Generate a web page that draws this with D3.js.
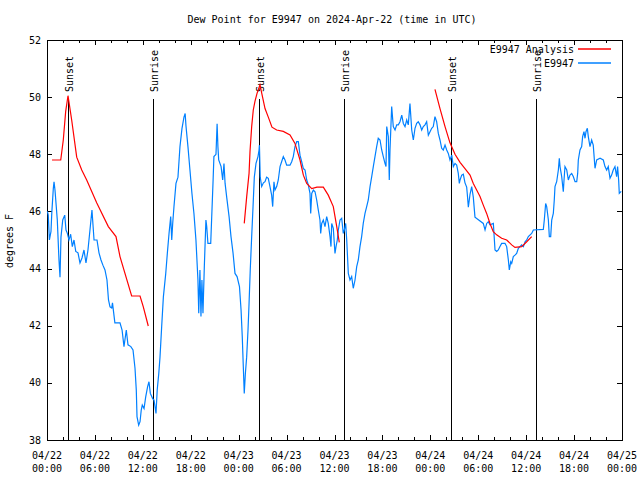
<!DOCTYPE html>
<html><head><meta charset="utf-8">
<script src="https://cdn.jsdelivr.net/npm/d3@7"></script>
<style>
html,body{margin:0;padding:0;background:#fff;}
svg{display:block;}
text{font-family:"DejaVu Sans Mono","Liberation Mono",monospace;font-size:10px;fill:#000;}
</style></head>
<body>
<svg id="c" width="640" height="480"></svg>
<script>
// ---- data (hours after 2024-04-22 00:00 UTC) ----
const stationHours = [0.05,0.16,0.3,0.5,0.6,0.79,0.88,1.0,1.29,1.5,1.63,1.75,1.97,2.22,2.38,2.54,2.75,2.96,3.17,3.38,3.6,3.88,4.13,4.38,4.63,4.88,5.13,5.38,5.63,5.89,6.26,6.51,6.76,7.0,7.26,7.51,7.7,7.89,8.1,8.2,8.5,9.14,9.4,9.64,9.93,10.14,10.5,10.77,11.02,11.18,11.27,11.48,11.65,11.8,11.93,12.15,12.36,12.6,12.77,12.94,13.23,13.4,13.65,13.8,14.0,14.15,14.36,14.57,14.87,15.07,15.28,15.49,15.62,15.74,15.9,16.15,16.4,16.65,16.9,17.15,17.3,17.4,17.65,17.9,18.15,18.4,18.65,18.9,19.0,19.15,19.28,19.4,19.53,19.7,19.9,20.0,20.15,20.5,20.8,20.9,21.16,21.3,21.4,21.5,21.8,22.0,22.16,22.3,22.5,22.8,23.04,23.3,23.54,23.8,24.1,24.3,24.45,24.58,24.7,24.84,25.0,25.17,25.3,25.45,25.63,25.8,25.96,26.17,26.42,26.55,26.6,26.7,26.88,27.1,27.3,27.5,27.71,27.92,28.13,28.26,28.42,28.55,28.76,28.96,29.18,29.38,29.59,29.8,30.01,30.43,30.64,30.84,31.05,31.27,31.47,31.68,31.89,32.1,32.31,32.52,32.72,32.93,33.02,33.15,33.35,33.56,33.77,33.97,34.18,34.27,34.4,34.6,34.81,35.02,35.22,35.44,35.56,35.65,35.85,36.06,36.19,36.35,36.48,36.69,36.9,37.1,37.23,37.4,37.53,37.73,37.94,38.15,38.35,38.57,38.78,38.98,39.19,39.4,39.6,39.82,40.03,40.23,40.45,40.66,40.86,41.07,41.28,41.48,41.7,41.91,42.11,42.32,42.45,42.54,42.74,42.86,42.95,43.16,43.36,43.58,43.79,43.99,44.2,44.42,44.62,44.83,45.04,45.24,45.45,45.67,45.87,46.08,46.29,46.49,46.71,46.92,47.12,47.33,47.54,47.75,47.96,48.17,48.37,48.58,48.79,49.0,49.21,49.42,49.62,49.84,50.05,50.25,50.46,50.68,50.88,51.09,51.3,51.5,51.63,51.72,51.93,52.13,52.34,52.55,52.63,52.76,52.97,53.18,53.38,53.59,54.63,54.85,55.06,55.26,55.47,55.89,56.1,56.31,56.51,56.72,56.93,57.35,57.56,57.77,57.89,58.07,58.19,58.39,58.6,58.81,59.02,59.44,59.65,59.86,60.07,60.27,60.69,60.9,62.15,62.27,62.44,62.57,62.78,62.9,63.07,63.2,63.4,63.52,63.61,63.74,63.82,64.03,64.15,64.24,64.45,64.65,64.74,64.86,65.08,65.28,65.49,65.7,65.9,66.12,66.33,66.45,66.53,66.74,66.95,67.07,67.24,67.37,67.49,67.66,67.78,67.99,68.2,68.4,68.62,68.83,69.25,69.66,69.87,70.08,70.28,70.5,70.7,70.9,71.12,71.33,71.45,71.58,71.66,71.9];
const stationDew = [46.0,45.87,45.0,45.3,45.95,46.8,47.04,46.75,45.7,44.3,43.7,45.1,45.7,45.87,45.35,45.24,45.0,45.2,44.77,45.0,44.6,44.55,44.2,44.37,44.65,44.2,44.65,45.35,46.05,45.0,45.0,44.55,44.3,44.12,43.95,43.6,42.9,42.66,42.62,42.8,42.1,42.1,41.85,41.27,41.85,41.33,41.27,41.15,40.51,39.75,38.82,38.52,38.64,39.05,39.22,39.1,39.51,39.87,40.04,39.63,39.45,39.4,38.93,39.75,40.34,40.9,41.97,43.0,43.83,44.54,45.23,45.82,45.0,45.58,46.17,46.98,47.2,48.27,48.9,49.3,49.43,49.0,48.27,47.45,46.63,45.93,45.0,43.6,42.44,43.95,42.32,43.6,42.44,44.07,45.7,45.47,44.88,44.88,47.1,47.92,48.0,49.07,48.27,47.8,47.57,47.1,47.68,46.98,46.5,45.82,45.12,44.53,43.83,43.72,43.37,42.55,41.62,40.57,39.63,40.33,40.9,41.85,42.78,43.95,45.12,46.17,47.2,47.68,47.92,48.15,48.32,47.2,46.87,47.0,47.04,47.2,47.16,46.87,46.57,46.17,47.04,46.75,46.87,47.1,47.57,47.74,47.92,47.8,47.62,47.62,47.74,47.92,48.27,48.44,48.44,47.97,47.74,47.5,47.45,47.1,46.93,46.63,45.93,46.63,46.75,46.69,46.4,46.05,45.7,45.23,45.58,45.7,45.47,45.82,45.58,45.12,44.77,45.58,45.41,44.53,44.77,45.0,45.35,45.7,45.76,45.23,45.35,45.58,45.0,43.83,43.6,43.72,43.31,43.6,44.07,44.3,44.77,45.12,45.58,45.93,46.17,46.4,46.87,47.22,47.57,47.92,48.27,48.56,48.5,48.15,47.92,47.68,47.57,48.97,48.62,47.1,48.15,49.67,48.97,48.85,49.03,49.03,49.14,49.37,49.08,48.97,49.2,49.03,49.78,48.85,48.5,48.91,49.08,49.14,49.03,48.85,48.97,49.03,49.14,48.67,48.79,48.91,48.97,49.32,49.14,48.73,48.5,48.21,48.15,48.32,48.15,48.03,47.8,47.97,47.57,47.68,47.62,47.33,46.98,47.1,47.27,47.3,47.0,46.85,46.6,46.15,46.6,46.87,46.5,45.8,45.58,45.35,45.58,45.64,45.53,45.58,44.65,44.6,44.65,44.77,44.88,44.88,44.77,44.3,43.95,44.24,44.18,44.42,44.47,44.53,44.71,44.83,44.77,44.94,45.0,45.12,45.23,45.35,45.37,45.7,46.28,46.17,45.7,45.12,45.12,45.7,45.93,46.4,46.87,46.98,47.04,47.45,47.86,47.57,47.22,46.69,47.1,47.57,47.45,47.1,47.27,47.33,47.22,47.04,47.04,47.33,47.8,48.15,48.27,48.62,48.79,48.56,48.79,48.91,48.62,48.27,48.5,48.32,47.51,47.8,47.86,47.8,47.57,47.45,47.57,47.16,47.27,47.45,47.57,47.22,47.57,47.1,46.63,46.7];

// analysis series, null = gap between runs
const analysisHours = [0.63,1.72,2.04,2.34,2.63,3.09,3.72,4.35,4.97,6.22,7.68,8.64,9.14,10.6,11.65,12.06,12.68,null,
  24.7,25.0,25.3,25.42,25.63,25.83,26.04,26.3,26.67,26.92,27.3,27.71,28.17,28.76,29.59,30.43,31.05,31.68,32.1,32.52,33.15,33.8,34.6,35.22,35.85,36.28,36.6,null,
  48.58,49.21,49.84,50.46,51.09,51.72,52.34,52.97,53.38,53.8,54.22,54.63,55.05,55.47,55.88,56.3,56.93,57.56,58.19,58.6,59.44,60.07,60.69];
const analysisDew = [47.8,47.8,48.5,49.5,50.05,49.2,47.9,47.45,47.1,46.3,45.47,45.12,44.42,43.04,43.04,42.66,41.99,null,
  45.58,46.5,47.33,48.1,48.97,49.55,49.85,50.13,50.43,50.1,49.6,49.3,48.95,48.85,48.8,48.68,48.38,47.8,47.27,46.98,46.8,46.85,46.85,46.57,46.17,45.47,44.92,null,
  50.27,49.6,48.97,48.4,48.0,47.72,47.5,47.27,46.98,46.75,46.52,46.22,45.93,45.58,45.29,45.18,45.06,45.0,44.83,44.74,44.77,44.94,45.12];

const sunEventHours = [2.68, 13.24, 26.6, 37.23, 50.6, 61.2];
const sunEventLabels = ["Sunset","Sunrise","Sunset","Sunrise","Sunset","Sunrise"];
const yTicks = [38,40,42,44,46,48,50,52];
const titleText = "Dew Point for E9947 on 2024-Apr-22 (time in UTC)";
const yLabel = "degrees F";
const legendLabels = ["E9947 Analysis","E9947"];
const legendColors = ["#ff0000","#0080ff"];

// ---- drawing ----
const t0 = Date.UTC(2024,3,22);
const toDate = h => new Date(t0 + h*3600000);
const svg = d3.select("#c");
const L=47, R=622, T=40, B=440;
const x = d3.scaleUtc().domain([toDate(0), toDate(72)]).range([L,R]);
const y = d3.scaleLinear().domain([38,52]).range([B,T]);

const g = svg.append("g");
g.append("rect").attr("x",L+0.5).attr("y",T+0.5).attr("width",R-L).attr("height",B-T)
  .attr("fill","none").attr("stroke","#000").attr("stroke-width",1).attr("shape-rendering","crispEdges");

const major = x.ticks(d3.utcHour.every(6));
const minor = x.ticks(d3.utcHour.every(2));
minor.forEach(d=>{
  const isMaj = d.getUTCHours()%6===0;
  const len = isMaj?5:3;
  const px = Math.round(x(d))+0.5;
  g.append("line").attr("x1",px).attr("x2",px).attr("y1",B).attr("y2",B-len).attr("stroke","#000").attr("shape-rendering","crispEdges");
  g.append("line").attr("x1",px).attr("x2",px).attr("y1",T).attr("y2",T+len).attr("stroke","#000").attr("shape-rendering","crispEdges");
});
const fD = d3.utcFormat("%m/%d"), fH = d3.utcFormat("%H:%M");
major.forEach(d=>{
  const t = g.append("text").attr("x",x(d)).attr("text-anchor","middle");
  t.append("tspan").attr("x",x(d)).attr("y",459).text(fD(d));
  t.append("tspan").attr("x",x(d)).attr("y",472).text(fH(d));
});
yTicks.forEach(v=>{
  const py = Math.round(y(v))+0.5;
  g.append("line").attr("x1",L).attr("x2",L+5).attr("y1",py).attr("y2",py).attr("stroke","#000").attr("shape-rendering","crispEdges");
  g.append("line").attr("x1",R-5).attr("x2",R).attr("y1",py).attr("y2",py).attr("stroke","#000").attr("shape-rendering","crispEdges");
  g.append("text").attr("x",41).attr("y",y(v)+3.5).attr("text-anchor","end").text(v);
});

svg.append("text").attr("x",332).attr("y",23).attr("text-anchor","middle").text(titleText);
svg.append("text").attr("transform","translate(13,241) rotate(-90)").attr("text-anchor","middle").text(yLabel);

sunEventHours.forEach((h,i)=>{
  const px = Math.round(x(toDate(h)))+0.5;
  g.append("line").attr("x1",px).attr("x2",px).attr("y1",99).attr("y2",B).attr("stroke","#000").attr("shape-rendering","crispEdges");
  g.append("text").attr("transform",`translate(${px+4},92) rotate(-90)`).attr("text-anchor","start").text(sunEventLabels[i]);
});

const station = stationHours.map((h,i)=>({t:toDate(h),v:stationDew[i]}));
const analysis = analysisHours.map((h,i)=>({t:h===null?null:toDate(h),v:analysisDew[i]}));
const line = d3.line().defined(d=>d.t!==null && d.v!==null).x(d=>x(d.t)).y(d=>y(d.v));
g.append("path").datum(station).attr("d",line).attr("fill","none").attr("stroke",legendColors[1]).attr("stroke-width",1.2);
g.append("path").datum(analysis).attr("d",line).attr("fill","none").attr("stroke",legendColors[0]).attr("stroke-width",1.2);

legendLabels.forEach((lab,i)=>{
  const ly = 49 + i*14;
  g.append("text").attr("x",574).attr("y",ly+3.5).attr("text-anchor","end").text(lab);
  g.append("line").attr("x1",578).attr("x2",611).attr("y1",ly).attr("y2",ly).attr("stroke",legendColors[i]).attr("stroke-width",1.5);
});
</script>
</body></html>
